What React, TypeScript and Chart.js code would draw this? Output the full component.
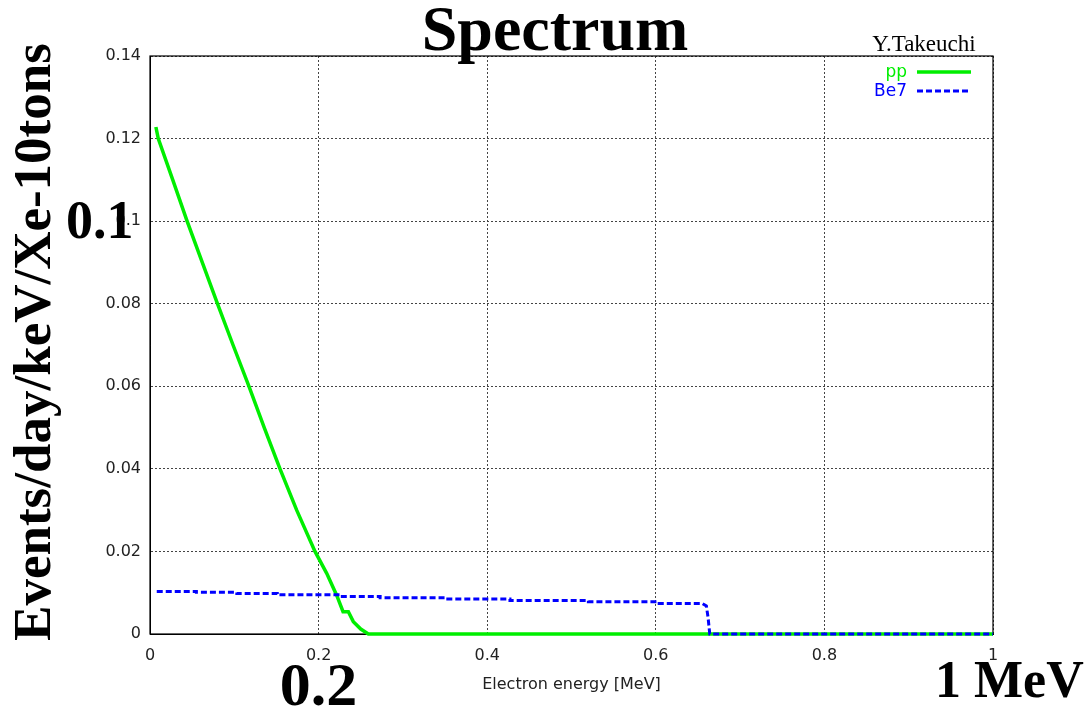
import { useEffect, useRef } from "react";
import { Chart, registerables } from "chart.js";

Chart.register(...registerables);

// ---- data ----
const ppEnergy = [0.007, 0.0098, 0.027, 0.044, 0.062, 0.08, 0.0985, 0.1174, 0.1355, 0.1542, 0.174, 0.1957, 0.2096, 0.2214, 0.229, 0.2353, 0.2412, 0.25, 0.259, 0.4, 0.6, 0.8, 1.0];
const ppRate = [0.1228, 0.12, 0.11, 0.1, 0.09, 0.08, 0.07, 0.06, 0.05, 0.04, 0.03, 0.02, 0.0147, 0.0094, 0.0054, 0.0054, 0.003, 0.0012, 0, 0, 0, 0, 0];

const be7Energy = [0.008, 0.055, 0.055, 0.103, 0.103, 0.151, 0.151, 0.223, 0.223, 0.273, 0.273, 0.35, 0.35, 0.427, 0.427, 0.52, 0.52, 0.604, 0.604, 0.655, 0.66, 0.662, 0.664, 0.8, 1.0];
const be7Rate = [0.0103, 0.0103, 0.0101, 0.0101, 0.0098, 0.0098, 0.0095, 0.0095, 0.0091, 0.0091, 0.0088, 0.0088, 0.0085, 0.0085, 0.0081, 0.0081, 0.0078, 0.0078, 0.0074, 0.0074, 0.0068, 0.004, 0, 0, 0];

const seriesLabels = ["pp", "Be7"];

const xTickValues = [0, 0.2, 0.4, 0.6, 0.8, 1];
const xTickLabels = ["0", "0.2", "0.4", "0.6", "0.8", "1"];
const yTickValues = [0, 0.02, 0.04, 0.06, 0.08, 0.1, 0.12, 0.14];
const yTickLabels = ["0", "0.02", "0.04", "0.06", "0.08", "0.1", "0.12", "0.14"];

const titleText = "Spectrum";
const authorText = "Y.Takeuchi";
const xTitleText = "Electron energy [MeV]";
const yTitleText = "Events/day/keV/Xe-10tons";
const noteY = "0.1";
const noteX1 = "0.2";
const noteX2 = "1 MeV";

const SERIF = '"Liberation Serif", "Times New Roman", serif';
const SANS = '"DejaVu Sans", sans-serif';

const decorPlugin = {
  id: "decor",
  beforeDatasetsDraw(chart: any) {
    const { ctx, chartArea } = chart;
    ctx.save();
    ctx.strokeStyle = "#000";
    ctx.lineWidth = 1.2;
    ctx.setLineDash([]);
    ctx.strokeRect(chartArea.left, chartArea.top, chartArea.right - chartArea.left, chartArea.bottom - chartArea.top);
    ctx.restore();
  },
  afterDraw(chart: any) {
    const { ctx } = chart;
    const xs = chart.scales.x;
    const ys = chart.scales.y;
    ctx.save();
    ctx.fillStyle = "#000";
    // title
    ctx.font = `bold 64px ${SERIF}`;
    ctx.textAlign = "center";
    ctx.textBaseline = "alphabetic";
    ctx.fillText(titleText, 555, 50);
    // author
    ctx.font = `23px ${SERIF}`;
    ctx.fillText(authorText, 924, 51);
    // y title
    ctx.save();
    ctx.translate(50, 342);
    ctx.rotate(-Math.PI / 2);
    ctx.font = `bold 53px ${SERIF}`;
    ctx.textAlign = "center";
    ctx.fillText(yTitleText, 0, 0);
    ctx.restore();
    // legend
    const ds = chart.data.datasets;
    const legendY = [72, 91];
    ctx.font = `17px ${SANS}`;
    ctx.textAlign = "right";
    ctx.textBaseline = "middle";
    ds.forEach((d: any, i: number) => {
      ctx.fillStyle = d.borderColor;
      ctx.fillText(d.label, 907, legendY[i] + 1);
      ctx.strokeStyle = d.borderColor;
      ctx.lineWidth = d.borderWidth;
      ctx.setLineDash(d.borderDash || []);
      ctx.beginPath();
      ctx.moveTo(917, legendY[i]);
      ctx.lineTo(971, legendY[i]);
      ctx.stroke();
    });
    ctx.setLineDash([]);
    // big overlay notes
    ctx.fillStyle = "#000";
    ctx.textBaseline = "alphabetic";
    ctx.font = `bold 54px ${SERIF}`;
    ctx.textAlign = "left";
    ctx.fillText(noteY, 66, ys.getPixelForValue(0.1) + 17);
    ctx.font = `bold 62px ${SERIF}`;
    ctx.textAlign = "center";
    ctx.fillText(noteX1, xs.getPixelForValue(0.2), 705);
    ctx.font = `bold 52px ${SERIF}`;
    ctx.textAlign = "left";
    ctx.fillText(noteX2, xs.getPixelForValue(1) - 58, 697);
    ctx.restore();
  },
};

export default function App() {
  const ref = useRef<HTMLCanvasElement | null>(null);
  useEffect(() => {
    if (!ref.current) return;
    const chart = new Chart(ref.current, {
      type: "line",
      data: {
        datasets: [
          {
            label: seriesLabels[0],
            data: ppEnergy.map((x, i) => ({ x, y: ppRate[i] })),
            borderColor: "#00ee00",
            borderWidth: 3.5,
            pointRadius: 0,
            tension: 0,
            clip: 6,
            order: 1,
          },
          {
            label: seriesLabels[1],
            data: be7Energy.map((x, i) => ({ x, y: be7Rate[i] })),
            borderColor: "#0000ff",
            borderWidth: 3,
            borderDash: [6, 3],
            pointRadius: 0,
            tension: 0,
            clip: 6,
            order: 0,
          },
        ],
      },
      options: {
        animation: false,
        responsive: true,
        maintainAspectRatio: false,
        layout: { padding: { left: 0, top: 56, right: 96, bottom: 0 } },
        plugins: {
          legend: { display: false },
          title: { display: false },
          tooltip: { enabled: false },
        },
        scales: {
          x: {
            type: "linear",
            min: 0,
            max: 1,
            afterBuildTicks: (s: any) => {
              s.ticks = xTickValues.map((v) => ({ value: v }));
            },
            afterFit: (s: any) => {
              s.height = 81;
            },
            ticks: {
              padding: 12,
              color: "#222",
              font: { family: SANS, size: 16 },
              maxRotation: 0,
              callback: (_v: any, i: number) => xTickLabels[i],
            },
            grid: { color: "#444", lineWidth: 1, drawTicks: false },
            border: { display: true, color: "#000", width: 1, dash: [2, 2] },
            title: {
              display: true,
              text: xTitleText,
              color: "#222",
              font: { family: SANS, size: 16 },
              padding: { top: 0, bottom: 21 },
            },
          },
          y: {
            type: "linear",
            min: 0,
            max: 0.14,
            afterBuildTicks: (s: any) => {
              s.ticks = yTickValues.map((v) => ({ value: v }));
            },
            afterFit: (s: any) => {
              s.width = 150;
            },
            ticks: {
              padding: 9,
              color: "#222",
              font: { family: SANS, size: 16 },
              callback: (_v: any, i: number) => yTickLabels[i],
            },
            grid: { color: "#444", lineWidth: 1, drawTicks: false },
            border: { display: true, color: "#000", width: 1, dash: [2, 2] },
          },
        },
      },
      plugins: [decorPlugin],
    });
    return () => chart.destroy();
  }, []);
  return (
    <div style={{ position: "fixed", left: 0, top: 0, width: 1089, height: 715, background: "#fff" }}>
      <canvas ref={ref} />
    </div>
  );
}
